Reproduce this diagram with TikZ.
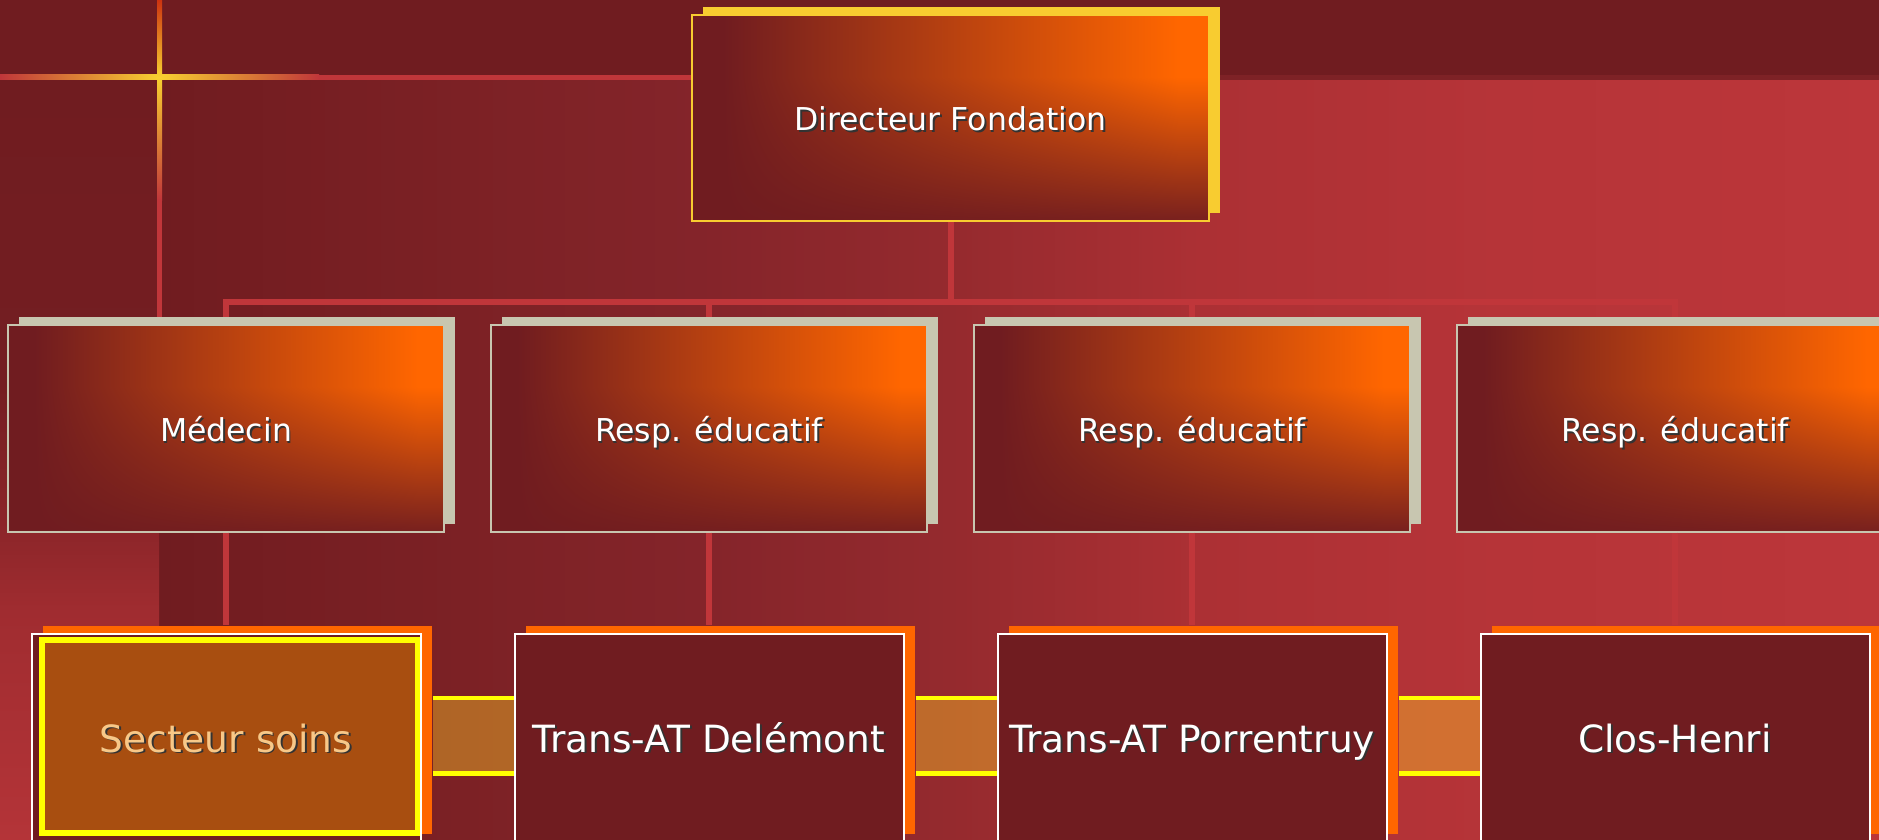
\documentclass[tikz,border=0pt]{standalone}
\usepackage{fontspec}
\setmainfont{DejaVu Sans}
\usetikzlibrary{trees,shadows}

\definecolor{dkred}{HTML}{701C20}
\definecolor{brred}{HTML}{BC363A}
\definecolor{lnred}{HTML}{C0363A}
\definecolor{fire}{HTML}{CC3310}
\definecolor{glow}{HTML}{F8D030}
\definecolor{orng}{HTML}{FF6600}
\definecolor{gold}{HTML}{F8CC30}
\definecolor{sand}{HTML}{C8C6B0}
\definecolor{soinsbg}{HTML}{A84E10}
\definecolor{peach}{HTML}{F8C888}
\definecolor{bandgold}{HTML}{FFCC28}
\definecolor{neon}{HTML}{FFFF00}
\definecolor{faint}{HTML}{7E2226}
\definecolor{bgA}{HTML}{761E22}
\definecolor{bgB}{HTML}{7E2226}
\definecolor{bgC}{HTML}{84242A}
\definecolor{bgD}{HTML}{952A2E}
\definecolor{bgE}{HTML}{AC3034}
\definecolor{bgF}{HTML}{B63438}
\definecolor{stA}{HTML}{741E22}
\definecolor{stB}{HTML}{8E262A}
\definecolor{stC}{HTML}{A02C30}
\definecolor{stD}{HTML}{B43438}

\pgfdeclarehorizontalshading{backshade}{100bp}{color(0bp)=(dkred); color(25bp)=(dkred); color(29bp)=(bgA); color(35.5bp)=(bgB); color(40.7bp)=(bgC); color(48bp)=(bgD); color(55.3bp)=(bgE); color(64bp)=(bgF); color(75bp)=(brred); color(100bp)=(brred)}
\pgfdeclareverticalshading{stripshade}{100bp}{color(0bp)=(stD); color(25bp)=(stD); color(40bp)=(stC); color(45bp)=(stB); color(55bp)=(stA); color(75bp)=(dkred); color(100bp)=(dkred)}
\pgfdeclarefunctionalshading{boxshade}{\pgfpointorigin}{\pgfpoint{100bp}{100bp}}{}{
	60 exch sub 37 div dup 0 lt {pop 0} if dup 1 gt {pop 1} if 1 exch sub
	exch 28 sub 44 div dup 0 lt {pop 0} if dup 1 gt {pop 1} if
	mul
	dup 0.561 mul 0.439 add exch
	dup 0.290 mul 0.110 add exch
	-0.125 mul 0.125 add
}

\newcommand{\shtxt}[2][white]{\makebox[0pt][l]{\hspace{1.8pt}\raisebox{-1.8pt}{\color{black!80}#2}}\textcolor{#1}{#2}}

\begin{document}
\begin{tikzpicture}[x=1pt, y=-1pt,
		chief/.style={draw=gold, line width=2pt, shade, shading=boxshade, minimum width=517pt, minimum height=206pt, inner sep=0pt, text height=33.5pt, text depth=8pt, drop shadow={shadow xshift=11pt, shadow yshift=8.5pt, fill=gold, opacity=1}, font=\fontsize{31.5}{38}\selectfont},
		mgr/.style={draw=sand, line width=2pt, shade, shading=boxshade, minimum width=436pt, minimum height=207pt, inner sep=0pt, text height=35pt, text depth=8pt, drop shadow={shadow xshift=11pt, shadow yshift=7.5pt, fill=sand, opacity=1}, font=\fontsize{31.5}{38}\selectfont},
		unit/.style={draw=white, line width=2pt, fill=dkred, minimum width=389pt, minimum height=208pt, inner sep=0pt, text height=36pt, text depth=8pt, drop shadow={shadow xshift=11pt, shadow yshift=8pt, fill=orng, opacity=1}, font=\fontsize{37.5}{45}\selectfont},
		soinsbox/.style={path picture={\draw[line width=6pt, draw=neon, fill=soinsbg] ([shift={(10pt,-6pt)}]path picture bounding box.north west) rectangle ([shift={(-3pt,9pt)}]path picture bounding box.south east);}},
		bandfill/.style={fill=bandgold, fill opacity=.4},
		bandedge/.style={draw=neon, line width=4.5pt},
		edge from parent/.style={draw=lnred, line width=6pt},
		level distance=310pt,
		level 1/.style={sibling distance=483pt, edge from parent path={(\tikzparentnode.south) -- ++(0pt,-80pt) -| ([yshift=7pt]\tikzchildnode.north)}},
		level 2/.style={edge from parent path={(\tikzparentnode.south) -- ([yshift=8pt]\tikzchildnode.north)}}
	]
	\useasboundingbox (0,0) rectangle (1879,839);
	\clip (0,0) rectangle (1879,839);
	\fill[dkred] (0,0) rectangle (1879,839);
	\shade[shading=backshade] (159,80) rectangle (1879,839);
	\shade[shading=stripshade] (0,80) rectangle (159,839);
	\fill[faint] (1209,75) rectangle (1879,80);
	\shade[left color=lnred, middle color=fire, right color=glow] (0,74.5) rectangle (159.5,79.5);
	\shade[left color=glow, middle color=fire, right color=lnred] (159.5,74.5) rectangle (319,79.5);
	\fill[lnred] (319,74.5) rectangle (700,79.5);
	\shade[top color=fire, bottom color=glow] (157,0) rectangle (162,77);
	\shade[top color=glow, middle color=fire, bottom color=lnred] (157,77) rectangle (162,200);
	\fill[lnred] (157,200) rectangle (162,531);

	\node[chief] (dir) at (950.5,118) {\shtxt{Directeur Fondation}}
		child {node[mgr] (med) {\shtxt{Médecin}}
			child {node[unit, soinsbox] (soins) {\shtxt[peach]{Secteur soins}}}
		}
		child {node[mgr] (resp1) {\shtxt{Resp. éducatif}}
			child {node[unit] (del) {\shtxt{Trans-AT Delémont}}}
		}
		child {node[mgr] (resp2) {\shtxt{Resp. éducatif}}
			child {node[unit] (porr) {\shtxt{Trans-AT Porrentruy}}}
		}
		child {node[mgr] (resp3) {\shtxt{Resp. éducatif}}
			child {node[unit] (clos) {\shtxt{Clos-Henri}}}
		}
	;

	\foreach \a/\b in {soins/del, del/porr, porr/clos} {
		\fill[bandfill] ([xshift=11pt, yshift=38pt]\a.east) rectangle ([yshift=-33pt]\b.west);
		\draw[bandedge] ([xshift=11pt, yshift=40pt]\a.east) -- ([yshift=40pt]\b.west);
		\draw[bandedge] ([xshift=11pt, yshift=-35.5pt]\a.east) -- ([yshift=-35.5pt]\b.west);
	}
\end{tikzpicture}
\end{document}
